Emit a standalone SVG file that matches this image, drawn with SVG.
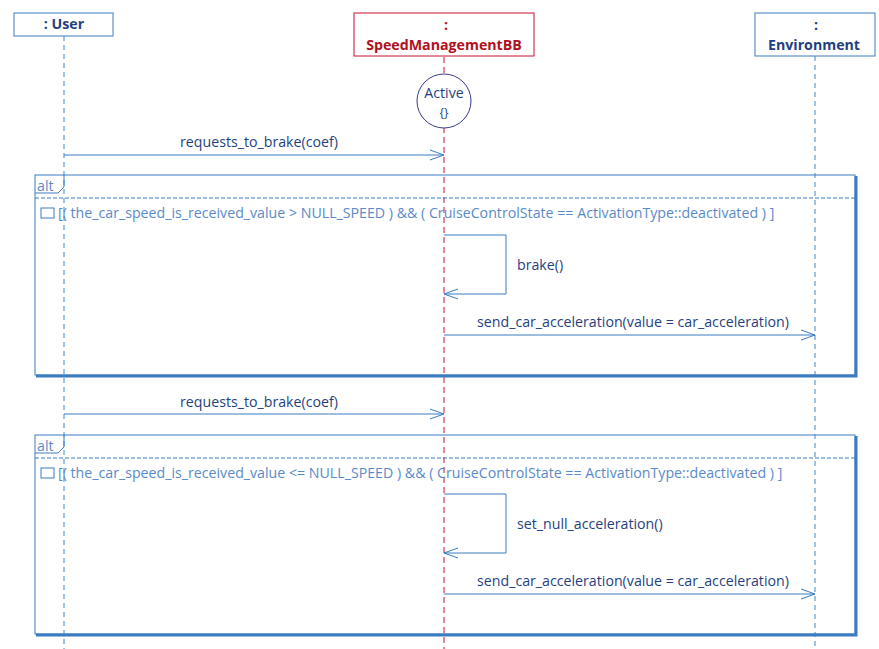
<svg xmlns="http://www.w3.org/2000/svg" width="879" height="649" viewBox="0 0 879 649">
<style>
text{font-family:"Segoe UI","Open Sans","Liberation Sans",sans-serif;font-size:14.2px}
.hd{font-weight:bold;fill:#1f3f7f;text-anchor:middle}
.ll{stroke:#3c8ad0;stroke-dasharray:5,4;stroke-width:1}
.msg{stroke:#3a7cbf;fill:none;stroke-width:1}
.lbl{fill:#1f3f7f;text-anchor:middle}
.fr{fill:none;stroke:#3a7cbf;stroke-width:1}
.sh{stroke:#3a7cbf;stroke-width:3;fill:none}
.g{fill:#5a8ac8}
</style>
<defs><marker id="a" markerWidth="16" markerHeight="12" refX="15" refY="6" orient="auto" markerUnits="userSpaceOnUse"><path d="M1,1 L15,6 L1,11" fill="none" stroke="#3a7cbf"/></marker></defs>
<g id="lifelines">
<line class="ll" x1="64" y1="36" x2="64" y2="649"/>
<line x1="444" y1="57" x2="444" y2="649" stroke="#c8102e" stroke-dasharray="6,4"/>
<line class="ll" x1="815" y1="56" x2="815" y2="649"/>
</g>
<g id="user"><rect x="14" y="13" width="99" height="23" fill="#fff" stroke="#3a7cbf"/><text class="hd" x="64" y="29">: User</text></g>
<g id="smbb"><rect x="354" y="13" width="180" height="43" fill="#fff" stroke="#c8102e"/><text class="hd" x="446" y="30" style="fill:#b01020">:</text><text class="hd" x="444" y="50" style="fill:#b01020">SpeedManagementBB</text></g>
<g id="env"><rect x="755" y="13" width="120" height="43" fill="#fff" stroke="#3a7cbf"/><text class="hd" x="816" y="30">:</text><text class="hd" x="814" y="50">Environment</text></g>
<g id="active"><circle cx="444" cy="101" r="27" fill="#fff" stroke="#3a3a8a"/><text class="lbl" x="444" y="98">Active</text><text class="lbl" x="444" y="117" style="font-size:12px">{}</text></g>
<g id="frame1">
<rect class="fr" x="35" y="175" width="820" height="200"/>
<path class="sh" d="M856,176 V376 H36"/>
<path class="fr" d="M35,193 H58 L64,187 V175"/>
<text x="37" y="191" class="g">alt</text>
<line x1="35" y1="198" x2="855" y2="198" stroke="#3a7cbf" stroke-dasharray="4,2"/>
<rect x="41" y="208" width="13" height="10" fill="#fff" stroke="#3a7cbf"/>
<text x="58" y="218" class="g">[( the_car_speed_is_received_value &gt; NULL_SPEED ) &amp;&amp; ( CruiseControlState == ActivationType::deactivated )  ]</text>
</g>
<g id="frame2">
<rect class="fr" x="35" y="435" width="820" height="199"/>
<path class="sh" d="M856,436 V635 H36"/>
<path class="fr" d="M35,453 H58 L64,447 V435"/>
<text x="37" y="451" class="g">alt</text>
<line x1="35" y1="458" x2="855" y2="458" stroke="#3a7cbf" stroke-dasharray="4,2"/>
<rect x="41" y="468" width="13" height="10" fill="#fff" stroke="#3a7cbf"/>
<text x="58" y="478" class="g">[( the_car_speed_is_received_value &lt;= NULL_SPEED ) &amp;&amp; ( CruiseControlState == ActivationType::deactivated )  ]</text>
</g>
<g id="connectors">
<line class="msg" x1="64" y1="155" x2="444" y2="155" marker-end="url(#a)"/>
<text class="lbl" x="259" y="147">requests_to_brake(coef)</text>
<path class="msg" d="M444,235 H506 V294 H444" marker-end="url(#a)"/>
<text x="517" y="270" fill="#1f3f7f">brake()</text>
<line class="msg" x1="444" y1="335" x2="815" y2="335" marker-end="url(#a)"/>
<text class="lbl" x="633" y="327">send_car_acceleration(value = car_acceleration)</text>
<line class="msg" x1="64" y1="414" x2="444" y2="414" marker-end="url(#a)"/>
<text class="lbl" x="259" y="407">requests_to_brake(coef)</text>
<path class="msg" d="M444,494 H506 V553 H444" marker-end="url(#a)"/>
<text x="517" y="529" fill="#1f3f7f">set_null_acceleration()</text>
<line class="msg" x1="444" y1="594" x2="815" y2="594" marker-end="url(#a)"/>
<text class="lbl" x="633" y="586">send_car_acceleration(value = car_acceleration)</text>
</g>
</svg>
